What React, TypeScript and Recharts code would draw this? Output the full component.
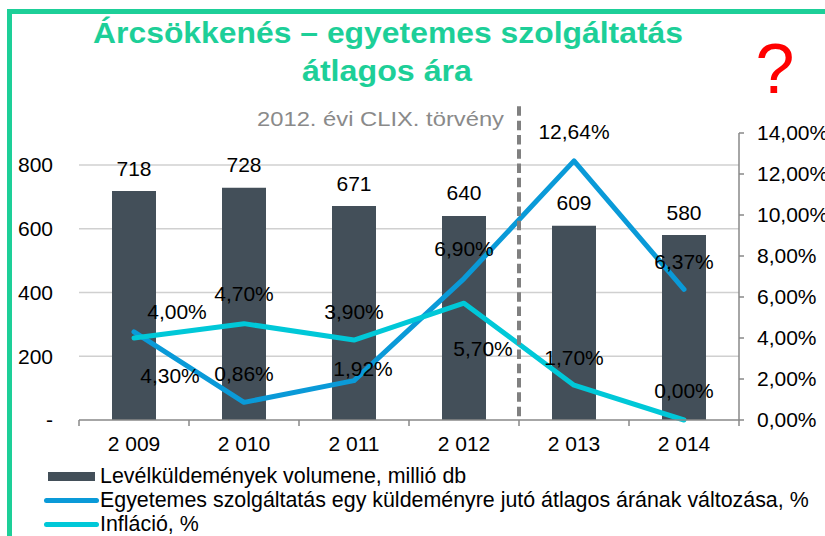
import React from 'react';
import {
  ComposedChart,
  Bar,
  Line,
  XAxis,
  YAxis,
  CartesianGrid,
  Legend,
  LabelList,
  ReferenceLine,
} from 'recharts';

// értékek
const years = ['2 009', '2 010', '2 011', '2 012', '2 013', '2 014'];
const volume = [718, 728, 671, 640, 609, 580];
const priceChange = [4.3, 0.86, 1.92, 6.9, 12.64, 6.37];
const inflation = [4.0, 4.7, 3.9, 5.7, 1.7, 0.0];
const volumeTicks = [0, 200, 400, 600, 800];
const percentTicks = [0, 2, 4, 6, 8, 10, 12, 14];

const volumeName = 'Levélküldemények volumene, millió db';
const priceName = 'Egyetemes szolgáltatás egy küldeményre jutó átlagos árának változása, %';
const inflationName = 'Infláció, %';

const data = years.map((year, i) => ({
  year,
  volume: volume[i],
  price: priceChange[i],
  inflation: inflation[i],
}));

const FONT = '"Liberation Sans", Arial, sans-serif';
const BAR = '#434f59';
const BLUE = '#0a9ad8';
const CYAN = '#00c8d8';
const GREEN = '#1dcf98';

// címkék eltolása (dx, dy) pontonként
const priceLabelShift = [[36, 44], [0, -29], [9, -12], [0, -30], [0, -29], [0, -28]];
const inflationLabelShift = [[43, -27], [0, -30], [0, -29], [19, 45], [0, -28], [0, -30]];

const pct = (v: number) => v.toFixed(2).replace('.', ',') + '%';

const lineLabel = (shift: number[][]) => (props: any) => {
  const { x, y, value, index } = props;
  const [dx, dy] = shift[index] || [0, -29];
  return (
    <text x={x + dx} y={y + dy} textAnchor="middle" dominantBaseline="central"
      fontFamily={FONT} fontSize={21} fill="#000">
      {pct(value)}
    </text>
  );
};

const barLabel = (props: any) => {
  const { x, y, width, value } = props;
  return (
    <text x={x + width / 2} y={y - 23} textAnchor="middle" dominantBaseline="central"
      fontFamily={FONT} fontSize={21} fill="#000">
      {value}
    </text>
  );
};

const YearTick = (props: any) => {
  const { x, y, payload, index, visibleTicksCount } = props;
  const half = payload && payload.offset ? payload.offset : 55;
  return (
    <g>
      <line x1={x - half} x2={x - half} y1={y} y2={y + 6} stroke="#888" strokeWidth={1.5} />
      {index === visibleTicksCount - 1 && (
        <line x1={x + half} x2={x + half} y1={y} y2={y + 6} stroke="#888" strokeWidth={1.5} />
      )}
      <text x={x} y={y + 23} textAnchor="middle" dominantBaseline="central"
        fontFamily={FONT} fontSize={21} fill="#000">
        {payload.value}
      </text>
    </g>
  );
};

const LegendBox = () => (
  <div style={{ height: 86, paddingLeft: 43, paddingTop: 14, boxSizing: 'border-box', fontFamily: FONT, fontSize: 21.4, color: '#000' }}>
    {[
      { name: volumeName, kind: 'bar', color: BAR },
      { name: priceName, kind: 'line', color: BLUE },
      { name: inflationName, kind: 'line', color: CYAN },
    ].map((item) => (
      <div key={item.name} style={{ display: 'flex', alignItems: 'center', height: 24, whiteSpace: 'nowrap' }}>
        <span style={{ width: 56, display: 'flex', justifyContent: 'center', marginRight: 1 }}>
          {item.kind === 'bar' ? (
            <span style={{ width: 47, height: 9, background: item.color }} />
          ) : (
            <span style={{ width: 55, height: 5, borderRadius: 3, background: item.color }} />
          )}
        </span>
        <span>{item.name}</span>
      </div>
    ))}
  </div>
);

export default function App() {
  return (
    <div style={{ position: 'absolute', left: 0, top: 0, width: 825, height: 536, background: '#fff', overflow: 'hidden' }}>
      <ComposedChart
        width={825}
        height={536}
        data={data}
        margin={{ top: 133, right: 0, bottom: 0, left: 0 }}
      >
        <CartesianGrid
          vertical={false}
          stroke="#d0d0d0"
          strokeWidth={1.5}
          yAxisId="left"
          horizontalValues={volumeTicks.slice(1)}
        />
        <XAxis
          dataKey="year"
          height={30}
          axisLine={{ stroke: '#888', strokeWidth: 1.5 }}
          tickLine={false}
          tickSize={0}
          tickMargin={0}
          tick={<YearTick />}
          interval={0}
        />
        <YAxis
          yAxisId="left"
          width={79}
          domain={[0, 900]}
          ticks={volumeTicks}
          axisLine={false}
          tickLine={false}
          tickSize={0}
          tickMargin={26}
          tickFormatter={(v: number) => (v === 0 ? '-' : String(v))}
          tick={{ fill: '#000', fontSize: 21, fontFamily: FONT }}
        />
        <YAxis
          yAxisId="pct"
          orientation="right"
          width={86}
          domain={[0, 14]}
          ticks={percentTicks}
          axisLine={{ stroke: '#888', strokeWidth: 1.5 }}
          tickLine={{ stroke: '#888', strokeWidth: 1.5 }}
          tickSize={5}
          tickMargin={13}
          tickFormatter={pct}
          tick={{ fill: '#000', fontSize: 21, fontFamily: FONT, textAnchor: 'start' }}
        />
        <Legend verticalAlign="bottom" align="left" content={<LegendBox />} />
        <Bar yAxisId="left" dataKey="volume" name={volumeName} fill={BAR} barSize={44} isAnimationActive={false}>
          <LabelList dataKey="volume" content={barLabel} />
        </Bar>
        <Line yAxisId="pct" dataKey="price" name={priceName} stroke={BLUE} strokeWidth={5}
          strokeLinecap="round" strokeLinejoin="round" dot={false} activeDot={false} isAnimationActive={false}>
          <LabelList dataKey="price" content={lineLabel(priceLabelShift)} />
        </Line>
        <Line yAxisId="pct" dataKey="inflation" name={inflationName} stroke={CYAN} strokeWidth={5}
          strokeLinecap="round" strokeLinejoin="round" dot={false} activeDot={false} isAnimationActive={false}>
          <LabelList dataKey="inflation" content={lineLabel(inflationLabelShift)} />
        </Line>
        {/* 2012. évi CLIX. törvény – határvonal 2012 és 2013 között */}
        <ReferenceLine
          yAxisId="pct"
          position="end"
          segment={[{ x: '2 012', y: 15.3 }, { x: '2 012', y: 0 }]}
          ifOverflow="visible"
          stroke="#808080"
          strokeWidth={4}
          strokeDasharray="9.5 4.8"
        />
      </ComposedChart>
      <svg width={825} height={536} style={{ position: 'absolute', left: 0, top: 0, pointerEvents: 'none' }}>
        <rect x={7} y={9} width={818} height={5} fill={GREEN} />
        <rect x={7} y={9} width={5} height={527} fill={GREEN} />
        <text x={388} y={43} textAnchor="middle" fontFamily={FONT} fontWeight="bold" fontSize={29}
          fill={GREEN} textLength={590} lengthAdjust="spacingAndGlyphs">
          Árcsökkenés – egyetemes szolgáltatás
        </text>
        <text x={387} y={81} textAnchor="middle" fontFamily={FONT} fontWeight="bold" fontSize={29}
          fill={GREEN} textLength={170} lengthAdjust="spacingAndGlyphs">
          átlagos ára
        </text>
        <text x={775} y={93} textAnchor="middle" fontFamily={FONT} fontSize={70} fill="#ff0000">
          ?
        </text>
        <text x={504} y={126} textAnchor="end" fontFamily={FONT} fontSize={21} fill="#8a8a8a"
          textLength={247} lengthAdjust="spacingAndGlyphs">
          2012. évi CLIX. törvény
        </text>
      </svg>
    </div>
  );
}
